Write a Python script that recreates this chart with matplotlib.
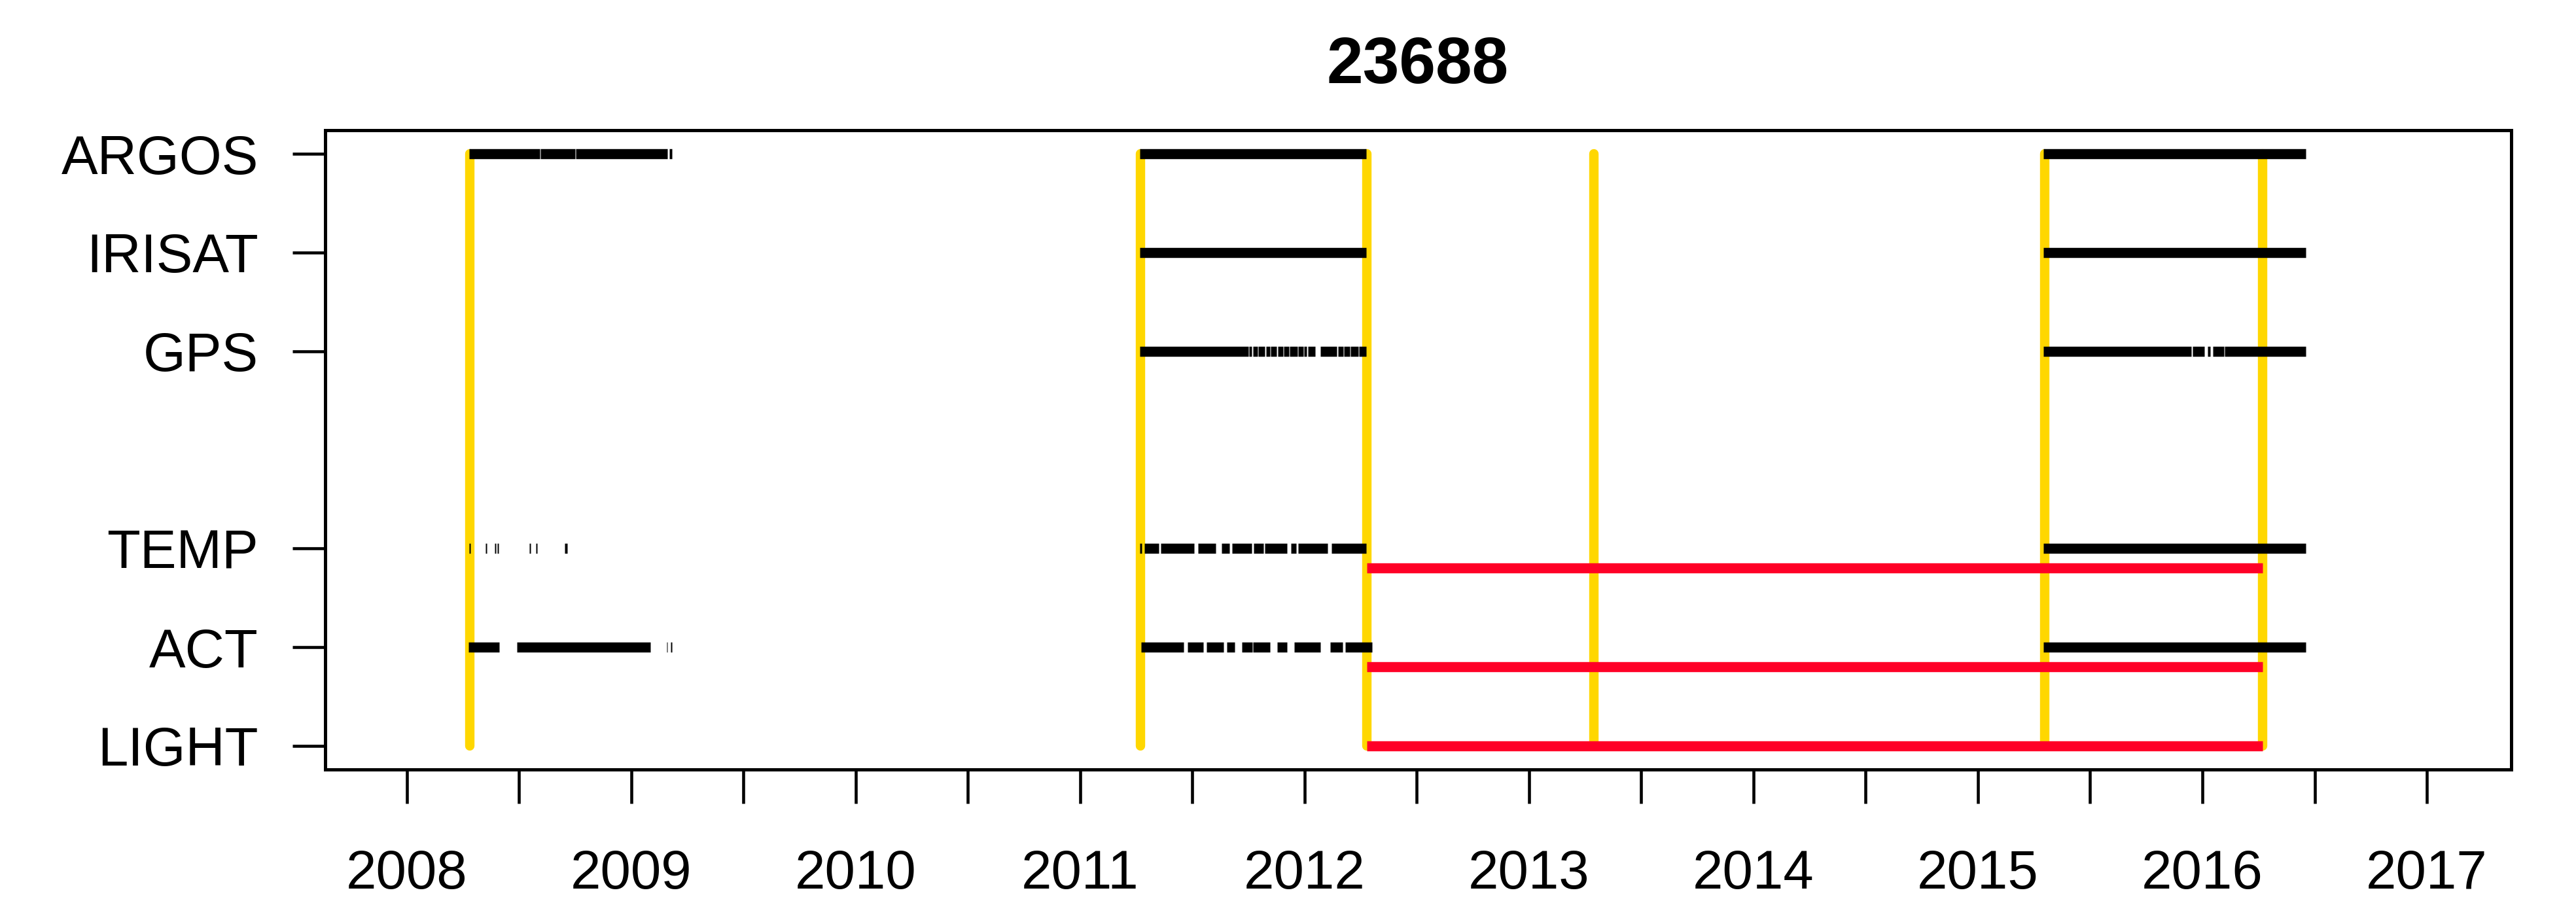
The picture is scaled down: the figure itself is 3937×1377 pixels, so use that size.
"""Deployment timeline for tag 23688: data streams per sensor, deployments in yellow."""

import matplotlib
matplotlib.use("Agg")
import matplotlib.pyplot as plt

plt.rcParams["font.family"] = ["Liberation Sans", "DejaVu Sans"]

title = "23688"

# rows of the chart (y position -> label)
row_labels = ["LIGHT", "ACT", "TEMP", "GPS", "IRISAT", "ARGOS"]
row_pos = [1, 2, 3, 5, 6, 7]

# data coverage per stream, as (start, end) in decimal years
argos_spans = [
    (2008.276, 2008.592), (2008.596, 2008.750), (2008.754, 2009.162), (2009.170, 2009.180),
    (2011.265, 2012.274),
    (2015.291, 2016.461),
]
irisat_spans = [
    (2011.265, 2012.274),
    (2015.291, 2016.461),
]
gps_spans = [
    (2011.265, 2011.750), (2011.753, 2011.765), (2011.769, 2011.790), (2011.794, 2011.823),
    (2011.827, 2011.845), (2011.849, 2011.876), (2011.880, 2011.904), (2011.908, 2011.930),
    (2011.934, 2011.968), (2011.972, 2011.994), (2011.998, 2012.010), (2012.014, 2012.046),
    (2012.071, 2012.144), (2012.148, 2012.172), (2012.176, 2012.200), (2012.204, 2012.239),
    (2012.243, 2012.274),
    (2015.291, 2015.951), (2015.955, 2016.010), (2016.022, 2016.036), (2016.046, 2016.096),
    (2016.100, 2016.461),
]
temp_spans = [
    (2008.276, 2008.282), (2008.351, 2008.357), (2008.392, 2008.398), (2008.402, 2008.410),
    (2008.545, 2008.552), (2008.574, 2008.581), (2008.702, 2008.714),
    (2011.265, 2011.273), (2011.286, 2011.350), (2011.359, 2011.507), (2011.525, 2011.603),
    (2011.630, 2011.664), (2011.678, 2011.765), (2011.774, 2011.817), (2011.823, 2011.921),
    (2011.940, 2011.963), (2011.972, 2012.102), (2012.120, 2012.275),
    (2015.291, 2016.461),
]
act_spans = [
    (2008.274, 2008.412), (2008.490, 2009.085), (2009.158, 2009.162), (2009.174, 2009.180),
    (2011.271, 2011.461), (2011.477, 2011.549), (2011.564, 2011.639), (2011.652, 2011.688),
    (2011.721, 2011.767), (2011.771, 2011.847), (2011.878, 2011.921), (2011.955, 2012.071),
    (2012.113, 2012.169), (2012.180, 2012.300),
    (2015.291, 2016.461),
]

# deployment / retrieval dates (yellow)
deploy_dates = [2008.280, 2011.268, 2012.277, 2013.289, 2015.297, 2016.268]

# logger record periods (red): start, end, row
red_start = 2012.277
red_end = 2016.268
red_rows = [1.0, 1.8, 2.8]

year_ticks = list(range(2008, 2018))
half_ticks = [y + 0.5 for y in range(2008, 2017)]

fig = plt.figure(figsize=(3937 / 300, 1377 / 300), dpi=300)
ax = fig.add_axes([497 / 3937, 1 - 1176 / 1377, (3838 - 497) / 3937, (1176 - 199) / 1377])

# yellow deployment markers
ax.vlines(deploy_dates, 1, 7, color="#FFD700", linewidth=3.45, capstyle="round", zorder=1)

stream_spans = {1: [], 2: act_spans, 3: temp_spans, 5: gps_spans, 6: irisat_spans, 7: argos_spans}
for y, spans in stream_spans.items():
    if not spans:
        continue
    starts = [s for s, e in spans]
    ends = [e for s, e in spans]
    ax.hlines([y] * len(spans), starts, ends, color="black", linewidth=3.7, capstyle="butt", zorder=3)

ax.hlines(red_rows, red_start, red_end, color="#FF0027", linewidth=3.7, capstyle="butt", zorder=2)

ax.set_xlim(2007.636, 2017.376)
ax.set_ylim(0.76, 7.24)

ax.set_yticks(row_pos)
ax.set_yticklabels(row_labels)
ax.set_xticks(year_ticks)
ax.set_xticklabels([str(y) for y in year_ticks])
ax.set_xticks(half_ticks, minor=True)

ax.tick_params(axis="y", length=12, width=1.1, pad=12.5, labelsize=20)
ax.tick_params(axis="x", which="both", length=12.5, width=1.1, pad=16.5, labelsize=20)
for side in ax.spines.values():
    side.set_linewidth(1.2)

fig.text(2167 / 3937, 1 - 101 / 1377, title, ha="center", va="center",
         fontsize=24, fontweight="bold")

fig.savefig("out.png", dpi=300)
